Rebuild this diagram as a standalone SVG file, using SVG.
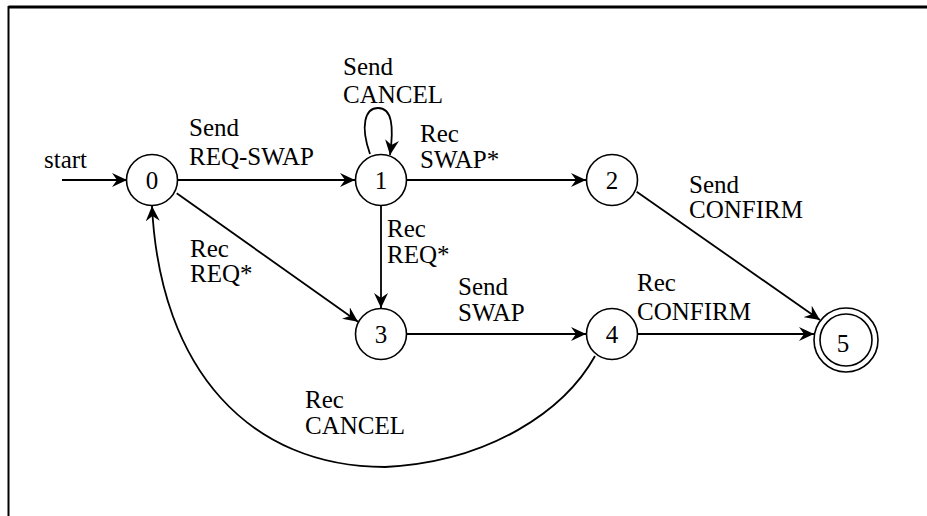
<svg xmlns="http://www.w3.org/2000/svg" width="927" height="516" viewBox="0 0 927 516">
<style>
.st{fill:#fff;stroke:#000;stroke-width:1.6}
.e{fill:none;stroke:#000;stroke-width:1.8}
.c{text-anchor:middle}
</style>
<defs>
<marker id="ah" markerUnits="userSpaceOnUse" markerWidth="16" markerHeight="14" refX="15" refY="7" orient="auto">
<path d="M0,0 L15,7 L0,14 L5,7 z" fill="#000"/>
</marker>
</defs>
<rect width="927" height="516" fill="#fff"/>
<g id="frame">
<line x1="8.5" y1="7" x2="927" y2="7" stroke="#000" stroke-width="3"/>
<line x1="8.5" y1="6" x2="8.5" y2="516" stroke="#000" stroke-width="2"/>
</g>
<g id="connectors">
<path class="e" d="M62,180 L127,180" marker-end="url(#ah)"/>
<path class="e" d="M177,180 L355,180" marker-end="url(#ah)"/>
<path class="e" d="M407,180 L586,180" marker-end="url(#ah)"/>
<path class="e" d="M176.7,193.3 L358,321.7" marker-end="url(#ah)"/>
<path class="e" d="M381,206 L381,308" marker-end="url(#ah)"/>
<path class="e" d="M407,334 L586,334" marker-end="url(#ah)"/>
<path class="e" d="M637,334 L814,334" marker-end="url(#ah)"/>
<path class="e" d="M636.7,191.7 L820,320" marker-end="url(#ah)"/>
<path class="e" d="M370,154 C360,126 365,108 378,108 C392,108 394,126 390,155" marker-end="url(#ah)"/>
<path class="e" d="M595,356 C565,410 490,462 385,467 C250,467 160,370 152,206" marker-end="url(#ah)"/>
</g>
<g id="labels" font-family="Liberation Serif, serif" font-size="25" fill="#000">
<text x="44" y="168">start</text>
<text x="189" y="136">Send</text>
<text x="189" y="165">REQ-SWAP</text>
<text x="343" y="75">Send</text>
<text x="343" y="103">CANCEL</text>
<text x="420" y="142">Rec</text>
<text x="420" y="168">SWAP*</text>
<text x="387" y="237">Rec</text>
<text x="387" y="263">REQ*</text>
<text x="190" y="257">Rec</text>
<text x="190" y="282">REQ*</text>
<text x="689" y="193">Send</text>
<text x="689" y="218">CONFIRM</text>
<text x="458" y="295">Send</text>
<text x="458" y="321">SWAP</text>
<text x="637" y="291">Rec</text>
<text x="637" y="320">CONFIRM</text>
<text x="305" y="408">Rec</text>
<text x="305" y="434">CANCEL</text>
</g>
<g font-family="Liberation Serif, serif" font-size="25" fill="#000">
<g id="node0"><circle class="st" cx="152" cy="180" r="25.5"/><text class="c" x="152" y="189">0</text></g>
<g id="node1"><circle class="st" cx="381" cy="180" r="25.5"/><text class="c" x="381" y="189">1</text></g>
<g id="node2"><circle class="st" cx="612" cy="180" r="25.5"/><text class="c" x="612" y="189">2</text></g>
<g id="node3"><circle class="st" cx="381" cy="334" r="25.5"/><text class="c" x="381" y="343">3</text></g>
<g id="node4"><circle class="st" cx="612" cy="334" r="25.5"/><text class="c" x="612" y="343">4</text></g>
<g id="node5"><circle class="st" cx="846" cy="340" r="32"/><circle class="st" cx="846" cy="340" r="26"/><text class="c" x="843" y="352">5</text></g>
</g>
</svg>
